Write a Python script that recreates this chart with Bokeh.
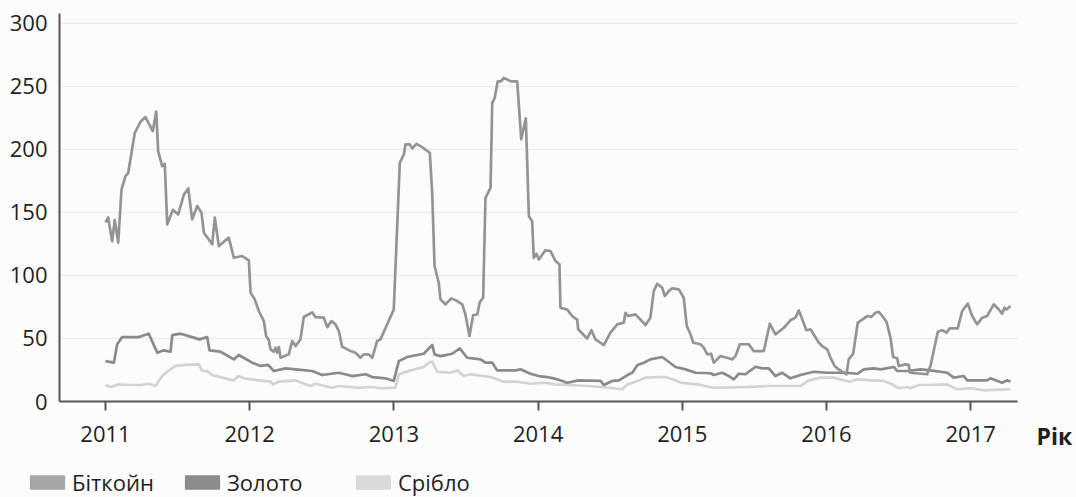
from bokeh.plotting import figure
from bokeh.models import Range1d, FixedTicker, Legend, LegendItem, Label
from bokeh.embed import file_html
from bokeh.resources import INLINE

# ---- data ----
btc_year = [2011.000, 2011.019, 2011.046, 2011.064, 2011.088, 2011.111, 2011.139, 2011.157, 2011.203, 2011.243,
            2011.277, 2011.328, 2011.352, 2011.365, 2011.393, 2011.411, 2011.428, 2011.467, 2011.504, 2011.543,
            2011.574, 2011.601, 2011.636, 2011.666, 2011.682, 2011.740, 2011.758, 2011.786, 2011.855, 2011.890,
            2011.948, 2011.994, 2012.006, 2012.035, 2012.063, 2012.098, 2012.114, 2012.132, 2012.144, 2012.167,
            2012.179, 2012.191, 2012.202, 2012.214, 2012.271, 2012.295, 2012.318, 2012.352, 2012.375, 2012.433,
            2012.456, 2012.514, 2012.538, 2012.567, 2012.595, 2012.618, 2012.641, 2012.699, 2012.734, 2012.768,
            2012.791, 2012.826, 2012.850, 2012.884, 2012.907, 2012.999, 2013.041, 2013.069, 2013.080, 2013.110,
            2013.127, 2013.157, 2013.196, 2013.249, 2013.266, 2013.282, 2013.311, 2013.323, 2013.358, 2013.397,
            2013.439, 2013.474, 2013.496, 2013.524, 2013.550, 2013.578, 2013.596, 2013.619, 2013.635, 2013.670,
            2013.682, 2013.698, 2013.720, 2013.744, 2013.762, 2013.786, 2013.809, 2013.855, 2013.883, 2013.915,
            2013.936, 2013.959, 2013.970, 2013.989, 2014.005, 2014.051, 2014.086, 2014.121, 2014.148, 2014.155,
            2014.202, 2014.236, 2014.271, 2014.278, 2014.340, 2014.370, 2014.398, 2014.456, 2014.502, 2014.549,
            2014.594, 2014.606, 2014.625, 2014.675, 2014.745, 2014.779, 2014.802, 2014.826, 2014.861, 2014.879,
            2014.906, 2014.930, 2014.976, 2015.010, 2015.031, 2015.057, 2015.076, 2015.126, 2015.149, 2015.173,
            2015.200, 2015.218, 2015.264, 2015.310, 2015.346, 2015.369, 2015.399, 2015.461, 2015.496, 2015.565,
            2015.607, 2015.646, 2015.704, 2015.750, 2015.785, 2015.808, 2015.861, 2015.889, 2015.947, 2015.970,
            2016.005, 2016.028, 2016.056, 2016.085, 2016.139, 2016.154, 2016.185, 2016.217, 2016.248, 2016.282,
            2016.310, 2016.340, 2016.363, 2016.393, 2016.416, 2016.444, 2016.462, 2016.490, 2016.501, 2016.547,
            2016.571, 2016.578, 2016.698, 2016.721, 2016.772, 2016.802, 2016.832, 2016.855, 2016.910, 2016.941,
            2016.980, 2017.010, 2017.045, 2017.080, 2017.114, 2017.160, 2017.195, 2017.218, 2017.234, 2017.248,
            2017.276]
btc_value = [142, 146, 127, 144, 126, 168, 179, 181, 213, 222,
             225.6, 214.5, 230, 198.6, 186.7, 188.6, 140.5, 152, 148.4, 164,
             169, 144.5, 155, 149.7, 133.9, 124.7, 145.8, 123.3, 130, 114,
             115.4, 112, 86.3, 81, 71.8, 63.8, 52, 49, 41.4, 39.5,
             42.7, 38.7, 43.2, 34.7, 37.4, 48, 44, 49.3, 67, 70.7,
             67, 66.5, 59, 63.8, 61.2, 55.9, 43.5, 40, 38.7, 34.7,
             37.4, 37.4, 34.7, 48, 49.3, 73, 189.4, 196, 204, 204,
             200.8, 204.4, 201.8, 197.3, 164.3, 107.5, 94.2, 81, 77, 81.8,
             79.7, 77, 69, 52, 68.6, 69, 79, 82.3, 161.6, 169.5,
             237, 240.4, 254, 254, 256.7, 255.5, 254, 254, 208, 224.6,
             147, 143, 114, 117.2, 112.7, 120, 119.3, 111.4, 108.8, 74.4,
             73, 67.8, 65, 57.3, 50, 56.5, 49.3, 44.8, 54.6, 61.2,
             62.5, 70.4, 67.8, 69.1, 60.7, 66.5, 87.6, 93.4, 90.2, 83.7,
             87.6, 89.8, 89, 82.3, 60, 53.3, 46.6, 45.4, 42.7, 37.4,
             37.9, 30.8, 36, 34.7, 33.4, 36, 45.4, 45.4, 40, 40,
             61.7, 53.3, 58.5, 64.4, 66.5, 72.3, 56.5, 57.3, 46.6, 44,
             41.4, 34.7, 28.2, 25.5, 21.6, 33.4, 37.9, 62.5, 65, 67.8,
             67, 70.4, 71.2, 67, 63.3, 50.6, 35.3, 34.3, 28.2, 29.5,
             29, 22.8, 21.6, 28.2, 55.4, 56.5, 54.6, 58, 58, 71.8,
             77.6, 67.8, 61.2, 66.5, 67.8, 77.1, 73, 69.6, 74.4, 73,
             75.7]

gold_year = [2011.000, 2011.058, 2011.081, 2011.116, 2011.231, 2011.300, 2011.359, 2011.404, 2011.451, 2011.463,
             2011.520, 2011.601, 2011.652, 2011.705, 2011.721, 2011.798, 2011.890, 2011.924, 2012.017, 2012.075,
             2012.128, 2012.167, 2012.248, 2012.318, 2012.433, 2012.503, 2012.618, 2012.711, 2012.803, 2012.850,
             2012.942, 2012.999, 2013.034, 2013.092, 2013.207, 2013.266, 2013.282, 2013.323, 2013.404, 2013.457,
             2013.508, 2013.601, 2013.635, 2013.682, 2013.716, 2013.843, 2013.878, 2013.947, 2014.005, 2014.063,
             2014.121, 2014.202, 2014.282, 2014.433, 2014.456, 2014.514, 2014.561, 2014.619, 2014.654, 2014.689,
             2014.733, 2014.778, 2014.861, 2014.953, 2015.022, 2015.092, 2015.196, 2015.218, 2015.277, 2015.323,
             2015.357, 2015.392, 2015.438, 2015.508, 2015.554, 2015.600, 2015.646, 2015.693, 2015.750, 2015.820,
             2015.912, 2016.005, 2016.132, 2016.213, 2016.259, 2016.328, 2016.374, 2016.467, 2016.490, 2016.560,
             2016.652, 2016.721, 2016.837, 2016.883, 2016.952, 2016.976, 2017.114, 2017.137, 2017.218, 2017.253,
             2017.276]
gold_value = [32, 30.8, 45.4, 51.1, 51.1, 53.8, 38.7, 40.6, 39.5, 52.7,
              53.8, 51.1, 49.3, 51.1, 40.6, 39.5, 33.4, 36.9, 30.8, 28.2,
              29, 24.2, 26.3, 25.5, 24.2, 21, 22.8, 20.2, 21.6, 19.4,
              18.4, 16.3, 32, 35.3, 37.9, 44.8, 37.4, 36, 37.9, 42.2,
              34.7, 33.4, 30.8, 30.8, 24.7, 24.7, 25.5, 22, 20.2, 19.4,
              18, 14.9, 16.8, 16.3, 13.1, 16.3, 16.8, 21, 22.8, 28.9,
              30.8, 33.4, 35.3, 27.4, 25.5, 22.8, 22.4, 21, 22.8, 20.2,
              17.6, 22, 21.6, 27.6, 26.3, 26.3, 20.2, 22.8, 18.4, 21,
              23.6, 22.8, 22.8, 22, 25.5, 26.3, 25.5, 27.4, 24.2, 24.2,
              25.5, 24.7, 22.8, 18.9, 20.2, 16.8, 16.8, 18.4, 14.9, 16.8,
              15.7]

silver_year = [2011.000, 2011.035, 2011.092, 2011.162, 2011.243, 2011.300, 2011.347, 2011.393, 2011.428, 2011.485,
               2011.555, 2011.647, 2011.671, 2011.705, 2011.740, 2011.809, 2011.890, 2011.924, 2011.959, 2012.063,
               2012.144, 2012.160, 2012.202, 2012.318, 2012.375, 2012.422, 2012.456, 2012.572, 2012.618, 2012.757,
               2012.850, 2012.907, 2013.011, 2013.034, 2013.115, 2013.207, 2013.242, 2013.266, 2013.300, 2013.393,
               2013.439, 2013.485, 2013.531, 2013.670, 2013.762, 2013.855, 2013.947, 2014.040, 2014.121, 2014.213,
               2014.352, 2014.490, 2014.583, 2014.618, 2014.675, 2014.745, 2014.837, 2014.883, 2014.953, 2014.988,
               2015.103, 2015.218, 2015.450, 2015.589, 2015.820, 2015.877, 2015.958, 2016.051, 2016.120, 2016.166,
               2016.213, 2016.305, 2016.397, 2016.455, 2016.501, 2016.560, 2016.582, 2016.640, 2016.721, 2016.837,
               2016.906, 2016.998, 2017.091, 2017.276]
silver_value = [13.1, 11.5, 13.6, 13.1, 13.1, 14.1, 12.3, 20.2, 23.6, 28.2,
                29, 29.5, 24.2, 24.2, 21, 18.9, 16.8, 20.2, 18.4, 16.8,
                15.7, 13.6, 15.7, 16.8, 14.1, 12.3, 14.1, 10.9, 12.3, 10.9,
                11.5, 10.5, 10.9, 21.6, 24.7, 27.4, 30.8, 31.6, 23.6, 22.8,
                24.7, 20.2, 21.6, 19.4, 15.7, 15.7, 14.1, 14.9, 13.6, 13.1,
                12.3, 10.9, 9.7, 13.6, 15.7, 18.9, 19.4, 19.4, 16.8, 14.9,
                13.6, 10.9, 11.5, 12.3, 12.3, 16.8, 18.9, 18.9, 16.8, 15.7,
                17.6, 16.8, 16.3, 13.6, 10.5, 11.5, 10.5, 13.1, 13.1, 13.6,
                9.7, 10.5, 8.9, 9.7]

year_ticks = [2011, 2012, 2013, 2014, 2015, 2016, 2017]
value_ticks = [0, 50, 100, 150, 200, 250, 300]
series_labels = ["Біткойн", "Золото", "Срібло"]
axis_title = "Рік"

# axis extents (data units)
X_AXIS_BOUNDS = (2010.681, 2017.325)
Y_AXIS_BOUNDS = (0, 307.4)

# ---- styles ----
FONT = "Open Sans"
TEXT = "#231f20"
AXIS = "#555558"
LINE_COLORS = ["#949498", "#8a8a8d", "#d3d3d3"]
PATCH_COLORS = ["#a6a6a9", "#8b8b8d", "#dadada"]
BG = "#fcfcfc"
NAN = float("nan")

# whole canvas is the plotting frame; axes are pinned at fixed locations
p = figure(width=1076, height=497, output_backend="svg", toolbar_location=None,
           x_range=Range1d(2010.2718, 2017.7338), y_range=Range1d(-76.15, 318.1),
           min_border_left=0, min_border_right=0, min_border_top=0, min_border_bottom=0,
           background_fill_color=BG, border_fill_color=BG)
p.outline_line_color = None
p.xgrid.visible = False
p.ygrid.visible = False

# horizontal grid lines limited to the axis extent
grid_vals = value_ticks[1:]
p.segment(x0=[X_AXIS_BOUNDS[0]] * len(grid_vals), x1=[X_AXIS_BOUNDS[1]] * len(grid_vals),
          y0=grid_vals, y1=grid_vals, line_color="#e9e9e9", line_width=1)

xa = p.xaxis[0]
ya = p.yaxis[0]
xa.fixed_location = 0
xa.bounds = X_AXIS_BOUNDS
ya.fixed_location = X_AXIS_BOUNDS[0]
ya.bounds = Y_AXIS_BOUNDS

for ax in (xa, ya):
    ax.axis_line_color = AXIS
    ax.axis_line_width = 2
    ax.major_label_text_font = FONT
    ax.major_label_text_font_size = "22px"
    ax.major_label_text_color = TEXT
    ax.minor_tick_line_color = None

xa.ticker = FixedTicker(ticks=year_ticks)
xa.major_tick_in = 0
xa.major_tick_out = 9
xa.major_tick_line_color = AXIS
xa.major_tick_line_width = 2
xa.major_label_standoff = 15

ya.ticker = FixedTicker(ticks=value_ticks)
ya.major_tick_in = 0
ya.major_tick_out = 0
ya.major_label_standoff = 12

# lines (silver first so darker lines overlay it)
p.line(silver_year, silver_value, line_color=LINE_COLORS[2], line_width=2.7, line_join="round")
p.line(gold_year, gold_value, line_color=LINE_COLORS[1], line_width=2.7, line_join="round")
p.line(btc_year, btc_value, line_color=LINE_COLORS[0], line_width=2.7, line_join="round")

# legend squares: quad renderers with a single NaN row (nothing drawn in the plot),
# used only for the legend swatches; one legend per entry.
# (area swatches are inset by 10% of the glyph box on each side)
legend_x = [25, 180, 351]
for lab, col, lx in zip(series_labels, PATCH_COLORS, legend_x):
    r = p.quad(left=[NAN], right=[NAN], top=[NAN], bottom=[NAN], fill_color=col, line_color=None)
    lg = Legend(items=[LegendItem(label=lab, renderers=[r])], location=(lx, 0),
                orientation="horizontal", glyph_width=44, glyph_height=18, label_standoff=3,
                padding=0, margin=0, spacing=0, border_line_alpha=0, background_fill_alpha=0,
                label_text_font=FONT, label_text_font_size="22px", label_text_color=TEXT)
    p.add_layout(lg)

# x-axis title at the right end of the axis
p.add_layout(Label(x=2017.456, y=-27, text=axis_title, text_font=FONT, text_font_style="bold",
                   text_font_size="23px", text_color=TEXT, text_baseline="middle", text_align="left"))

open("out.html", "w").write(file_html(p, INLINE))
